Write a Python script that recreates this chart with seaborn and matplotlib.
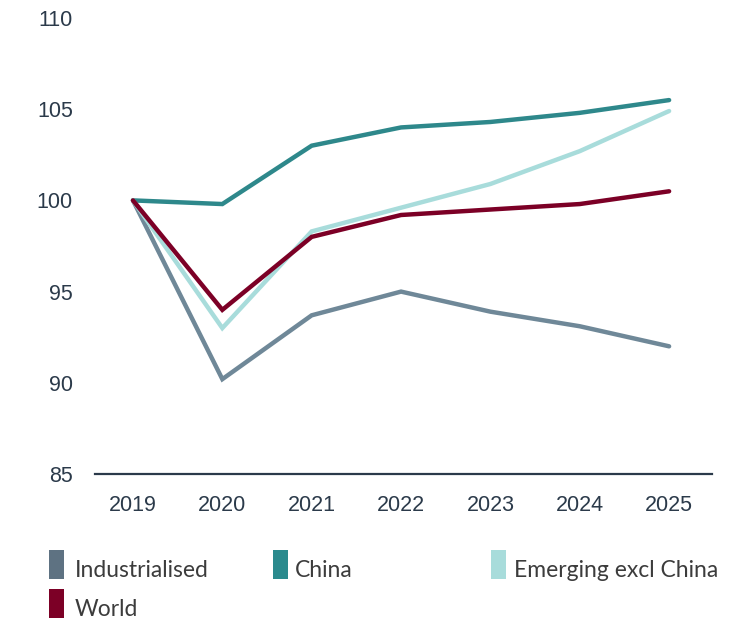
import matplotlib
matplotlib.use("Agg")
import matplotlib.pyplot as plt
from matplotlib.patches import Rectangle
import seaborn as sns
import pandas as pd

years = [2019, 2020, 2021, 2022, 2023, 2024, 2025]
industrialised = [100.0, 90.2, 93.7, 95.0, 93.9, 93.1, 92.0]
china = [100.0, 99.8, 103.0, 104.0, 104.3, 104.8, 105.5]
emerging = [100.0, 93.0, 98.3, 99.6, 100.9, 102.7, 104.9]
world = [100.0, 94.0, 98.0, 99.2, 99.5, 99.8, 100.5]

series_names = ["Industrialised", "China", "Emerging excl China", "World"]
colors = {"Industrialised": "#6F8898", "China": "#2E888B",
          "Emerging excl China": "#A8DCDB", "World": "#7C0026"}
legend_colors = {"Industrialised": "#5E7282", "China": "#2A8A8D",
                 "Emerging excl China": "#A8DCDB", "World": "#7C0026"}

rows = []
for name, vals in zip(series_names, [industrialised, china, emerging, world]):
    for y, v in zip(years, vals):
        rows.append({"year": y, "value": v, "series": name})
df = pd.DataFrame(rows)

sns.set_style("white")
plt.rcParams["font.family"] = ["Liberation Sans", "DejaVu Sans"]

fig = plt.figure(figsize=(7.49, 6.21), dpi=100)
ax = fig.add_axes([95 / 749, 1 - 474 / 621, (712 - 95) / 749, (474 - 18) / 621])

sns.lineplot(data=df, x="year", y="value", hue="series", hue_order=series_names,
             palette=colors, linewidth=3.2, legend=False, ax=ax)
for line in ax.lines:
    line.set_solid_capstyle("round")
    line.set_solid_joinstyle("miter")

ax.set_xlim(2019 - 0.425, 2025 + 0.48)
ax.set_ylim(85, 110)
ax.set_yticks([85, 90, 95, 100, 105, 110])
ax.set_xticks(years)
ax.set_xticklabels([str(y) for y in years])
ax.set_xlabel("")
ax.set_ylabel("")
text_color = "#2B3A4A"
ax.tick_params(axis="both", length=0, labelsize=15.5, colors=text_color)
ax.tick_params(axis="y", pad=16)
ax.tick_params(axis="x", pad=15)
for s in ["top", "right", "left"]:
    ax.spines[s].set_visible(False)
ax.spines["bottom"].set_color(text_color)
ax.spines["bottom"].set_linewidth(1.6)
ax.grid(False)

# legend
entries = [("Industrialised", 49, 550, 75), ("China", 273, 550, 295),
           ("Emerging excl China", 491, 550, 514), ("World", 49, 589, 75)]
for name, px, py, tx in entries:
    fig.add_artist(Rectangle((px / 749, 1 - (py + 29) / 621), 15 / 749, 29 / 621,
                             transform=fig.transFigure, color=legend_colors[name], lw=0))
    fig.text(tx / 749, 1 - (py + 27) / 621, name, ha="left", va="baseline",
             fontsize=16.5, color="#3C3C3C", fontweight="normal",
             family=["Lato", "DejaVu Sans"])

fig.savefig("out.png", dpi=100)
